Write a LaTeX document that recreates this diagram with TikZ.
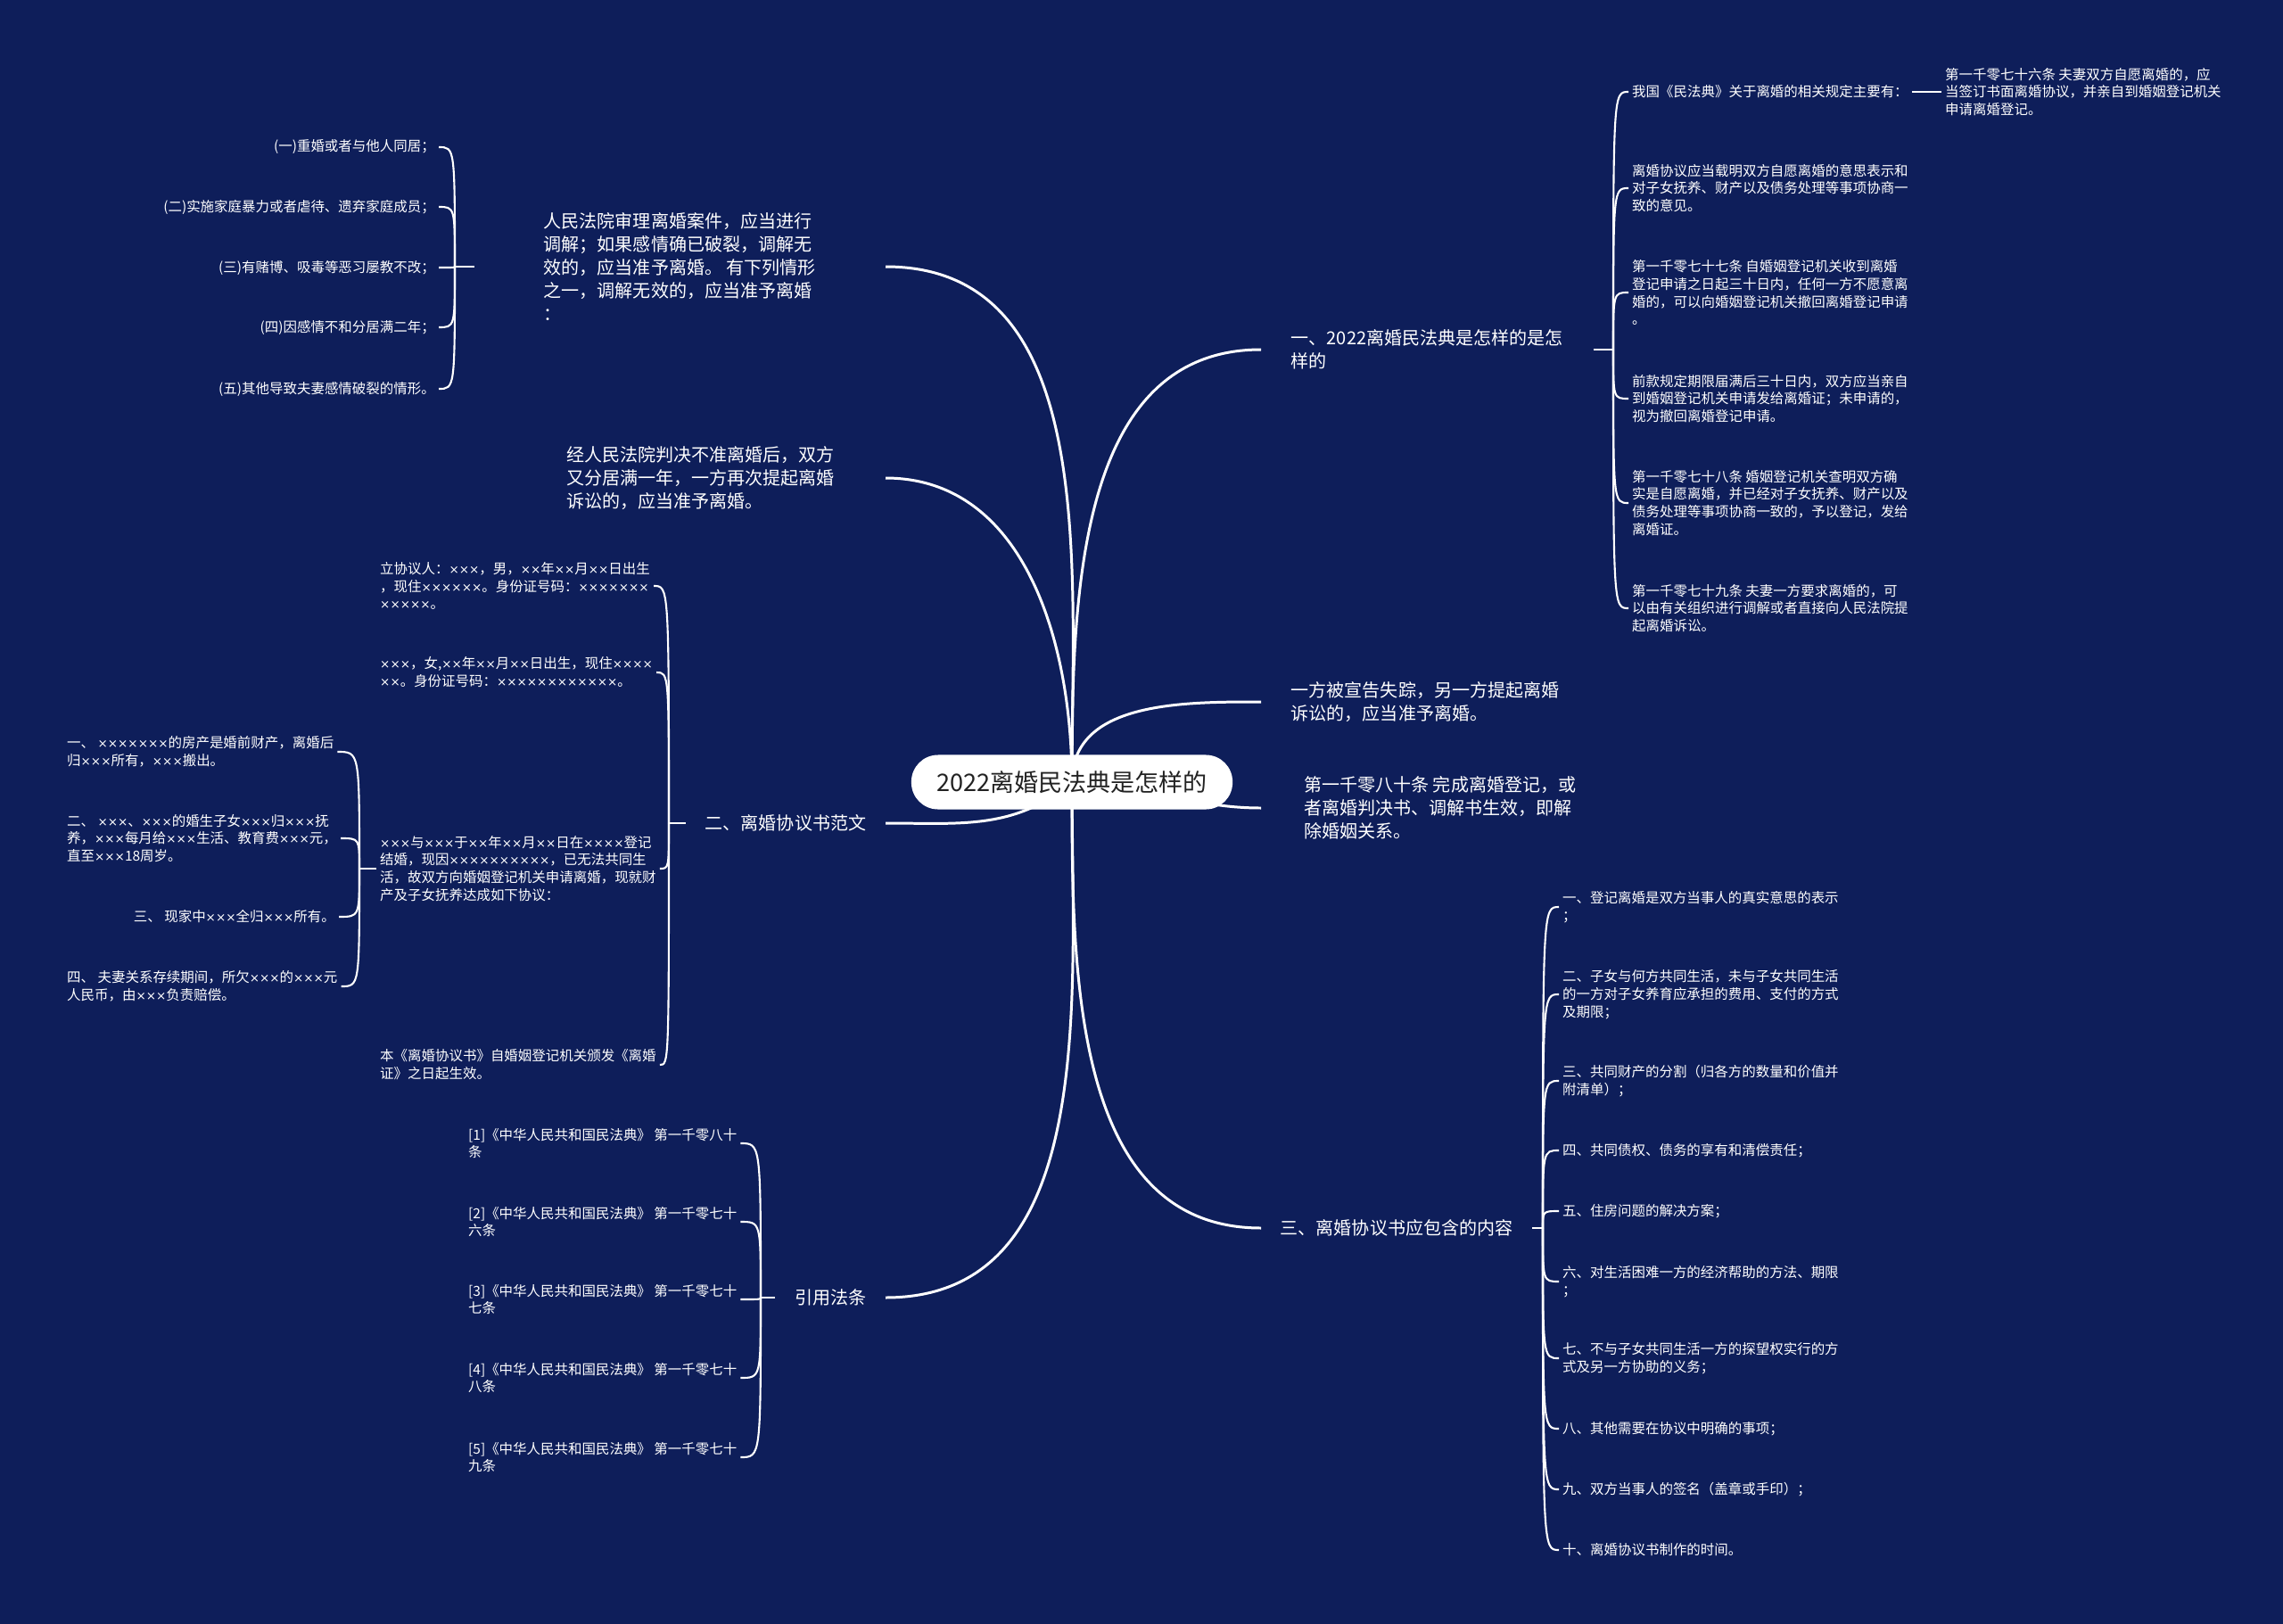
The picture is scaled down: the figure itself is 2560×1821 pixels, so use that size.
\documentclass[tikz,border=0pt]{standalone}
\usepackage{fontspec}
\setmainfont{Noto Sans CJK SC}
\newfontfamily\mulfont[Scale=0.87]{DejaVu Sans}
\catcode`\×=\active
\def×{{\mulfont\char"D7\relax}}
\usetikzlibrary{backgrounds}
\definecolor{bgnavy}{RGB}{14,30,90}
\definecolor{roottext}{RGB}{34,34,34}

\begin{document}
\begin{tikzpicture}[
  x=0.01cm, y=-0.01cm,
  root/.style={fill=white,rounded corners=0.3cm,minimum width=3.6cm,minimum height=0.61cm,inner sep=0pt,text=roottext,font=\fontsize{7.7}{10}\selectfont},
  branch/.style={text=white,align=left,inner xsep=6pt,inner ysep=2pt,font=\fontsize{5.7}{7.4}\selectfont},
  leaf/.style={text=white,align=left,inner sep=1pt,font=\fontsize{4.4}{5.65}\selectfont},
  trunk/.style={white,line width=0.85pt},
  brace/.style={white,line width=0.6pt}
]
\useasboundingbox (0,0) rectangle (2560,1821);

% centre
\node[root] (root) at (1202,877) {2022离婚民法典是怎样的};

% right branches
\node[branch,anchor=west,inner xsep=9.4pt] (r1) at (1414,392) {一、2022离婚民法典是怎样的是怎\\样的};
\node[branch,anchor=west,inner xsep=9.4pt] (r2) at (1414,787) {一方被宣告失踪，另一方提起离婚\\诉讼的，应当准予离婚。};
\node[branch,anchor=west,inner xsep=13.5pt] (r3) at (1414,906) {第一千零八十条 完成离婚登记，或\\者离婚判决书、调解书生效，即解\\除婚姻关系。};
\node[branch,anchor=west] (r4) at (1414,1377) {三、离婚协议书应包含的内容};

% left branches
\node[branch,anchor=east,inner xsep=22pt] (l1) at (993,299) {人民法院审理离婚案件，应当进行\\调解；如果感情确已破裂，调解无\\效的，应当准予离婚。 有下列情形\\之一，调解无效的，应当准予离婚\\：};
\node[branch,anchor=east,inner xsep=16pt] (l2) at (993,536) {经人民法院判决不准离婚后，双方\\又分居满一年，一方再次提起离婚\\诉讼的，应当准予离婚。};
\node[branch,anchor=east] (l3) at (993,923) {二、离婚协议书范文};
\node[branch,anchor=east] (l4) at (993,1455) {引用法条};

% spine points
\coordinate (r1s) at (1809,392);
\coordinate (r4s) at (1730,1377);
\coordinate (l1s) at (510,299);
\coordinate (l3s) at (750,923);
\coordinate (l4s) at (853,1455);
\coordinate (m3s) at (403,974);

% under r1
\node[leaf,anchor=west] (c1) at (1826,103) {我国《民法典》关于离婚的相关规定主要有：};
\node[leaf,anchor=west] (c2) at (1826,211) {离婚协议应当载明双方自愿离婚的意思表示和\\对子女抚养、财产以及债务处理等事项协商一\\致的意见。};
\node[leaf,anchor=west] (c3) at (1826,328) {第一千零七十七条 自婚姻登记机关收到离婚\\登记申请之日起三十日内，任何一方不愿意离\\婚的，可以向婚姻登记机关撤回离婚登记申请\\。};
\node[leaf,anchor=west] (c4) at (1826,447) {前款规定期限届满后三十日内，双方应当亲自\\到婚姻登记机关申请发给离婚证；未申请的，\\视为撤回离婚登记申请。};
\node[leaf,anchor=west] (c5) at (1826,564) {第一千零七十八条 婚姻登记机关查明双方确\\实是自愿离婚，并已经对子女抚养、财产以及\\债务处理等事项协商一致的，予以登记，发给\\离婚证。};
\node[leaf,anchor=west] (c6) at (1826,682) {第一千零七十九条 夫妻一方要求离婚的，可\\以由有关组织进行调解或者直接向人民法院提\\起离婚诉讼。};
\node[leaf,anchor=west] (gc) at (2177,103) {第一千零七十六条 夫妻双方自愿离婚的，应\\当签订书面离婚协议，并亲自到婚姻登记机关\\申请离婚登记。};

% under r4
\node[leaf,anchor=west] (k1) at (1748,1017) {一、登记离婚是双方当事人的真实意思的表示\\；};
\node[leaf,anchor=west] (k2) at (1748,1115) {二、子女与何方共同生活，未与子女共同生活\\的一方对子女养育应承担的费用、支付的方式\\及期限；};
\node[leaf,anchor=west] (k3) at (1748,1212) {三、共同财产的分割（归各方的数量和价值并\\附清单）；};
\node[leaf,anchor=west] (k4) at (1748,1290) {四、共同债权、债务的享有和清偿责任；};
\node[leaf,anchor=west] (k5) at (1748,1358) {五、住房问题的解决方案；};
\node[leaf,anchor=west] (k6) at (1748,1437) {六、对生活困难一方的经济帮助的方法、期限\\；};
\node[leaf,anchor=west] (k7) at (1748,1523) {七、不与子女共同生活一方的探望权实行的方\\式及另一方协助的义务；};
\node[leaf,anchor=west] (k8) at (1748,1602) {八、其他需要在协议中明确的事项；};
\node[leaf,anchor=west] (k9) at (1748,1670) {九、双方当事人的签名（盖章或手印）；};
\node[leaf,anchor=west] (k10) at (1748,1738) {十、离婚协议书制作的时间。};

% under l1
\node[leaf,anchor=east] (h1) at (492,165) {(一)重婚或者与他人同居；};
\node[leaf,anchor=east] (h2) at (492,232) {(二)实施家庭暴力或者虐待、遗弃家庭成员；};
\node[leaf,anchor=east] (h3) at (492,300) {(三)有赌博、吸毒等恶习屡教不改；};
\node[leaf,anchor=east] (h4) at (492,367) {(四)因感情不和分居满二年；};
\node[leaf,anchor=east] (h5) at (492,436) {(五)其他导致夫妻感情破裂的情形。};

% under l3
\node[leaf,anchor=west] (m1) at (422,657) {立协议人：×××，男，××年××月××日出生\\，现住××××××。身份证号码：×××××××\\×××××。};
\node[leaf,anchor=west] (m2) at (422,754) {×××，女,××年××月××日出生，现住××××\\××。身份证号码：××××××××××××。};
\node[leaf,anchor=west] (m3) at (422,974) {×××与×××于××年××月××日在××××登记\\结婚，现因××××××××××，已无法共同生\\活，故双方向婚姻登记机关申请离婚，现就财\\产及子女抚养达成如下协议：};
\node[leaf,anchor=west] (m4) at (422,1194) {本《离婚协议书》自婚姻登记机关颁发《离婚\\证》之日起生效。};

% under m3
\node[leaf,anchor=west] (g1) at (71,843) {一、 ×××××××的房产是婚前财产，离婚后\\归×××所有，×××搬出。};
\node[leaf,anchor=west] (g2) at (71,940) {二、 ×××、×××的婚生子女×××归×××抚\\养，×××每月给×××生活、教育费×××元，\\直至×××18周岁。};
\node[leaf,anchor=east] (g3) at (380,1028) {三、 现家中×××全归×××所有。};
\node[leaf,anchor=west] (g4) at (71,1106) {四、 夫妻关系存续期间，所欠×××的×××元\\人民币，由×××负责赔偿。};

% under l4
\node[leaf,anchor=west] (n1) at (521,1282) {[1]《中华人民共和国民法典》 第一千零八十\\条};
\node[leaf,anchor=west] (n2) at (521,1370) {[2]《中华人民共和国民法典》 第一千零七十\\六条};
\node[leaf,anchor=west] (n3) at (521,1457) {[3]《中华人民共和国民法典》 第一千零七十\\七条};
\node[leaf,anchor=west] (n4) at (521,1545) {[4]《中华人民共和国民法典》 第一千零七十\\八条};
\node[leaf,anchor=west] (n5) at (521,1634) {[5]《中华人民共和国民法典》 第一千零七十\\九条};

% brackets
\draw[brace] (r1.east) -- (r1s);
\foreach \k in {c1,c2,c3,c4,c5,c6}
  \draw[brace] (r1s) .. controls (r1s |- \k.west) .. (\k.west);
\draw[brace] (c1.east) -- (gc.west);
\draw[brace] (r4.east) -- (r4s);
\foreach \k in {k1,k2,k3,k4,k5,k6,k7,k8,k9,k10}
  \draw[brace] (r4s) .. controls (r4s |- \k.west) .. (\k.west);
\draw[brace] (l1.west) -- (l1s);
\foreach \k in {h1,h2,h3,h4,h5}
  \draw[brace] (l1s) .. controls (l1s |- \k.east) .. (\k.east);
\draw[brace] (l3.west) -- (l3s);
\foreach \k in {m1,m2,m3,m4}
  \draw[brace] (l3s) .. controls (l3s |- \k.east) .. (\k.east);
\draw[brace] (m3.west) -- (m3s);
\foreach \k in {g1,g2,g3,g4}
  \draw[brace] (m3s) .. controls (m3s |- \k.east) .. (\k.east);
\draw[brace] (l4.west) -- (l4s);
\foreach \k in {n1,n2,n3,n4,n5}
  \draw[brace] (l4s) .. controls (l4s |- \k.east) .. (\k.east);

% main curves, behind the root
\begin{scope}[on background layer]
\fill[bgnavy] (0,0) rectangle (2560,1821);
\draw[trunk] (root.center) to[out=90,in=180] (r1.west);
\draw[trunk] (root.center) to[out=90,in=180] (r2.west);
\draw[trunk] (root.center) to[out=0,in=180] (r3.west);
\draw[trunk] (root.center) to[out=-90,in=180] (r4.west);
\draw[trunk] (root.center) to[out=90,in=0] (l1.east);
\draw[trunk] (root.center) to[out=90,in=0] (l2.east);
\draw[trunk] (root.center) to[out=-140,in=0] (l3.east);
\draw[trunk] (root.center) to[out=-90,in=0] (l4.east);
\end{scope}
\end{tikzpicture}
\end{document}
